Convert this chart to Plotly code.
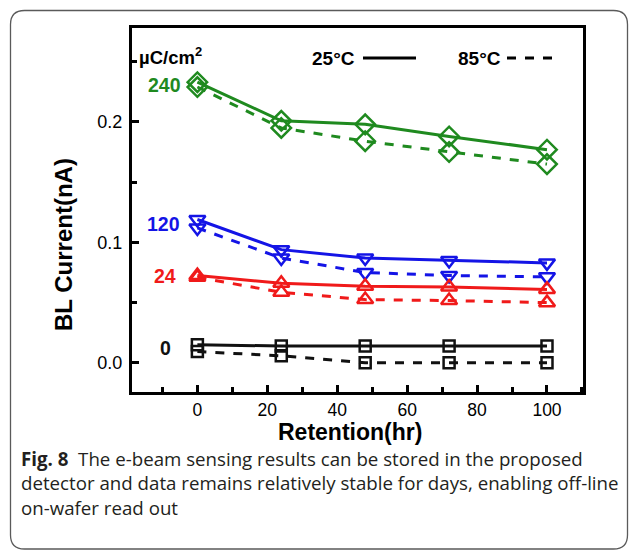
import plotly.graph_objects as go

# Retention times (hours)
retention_hr = [0, 24, 48, 72, 100]

# BL current (nA) for each e-beam dose, at 25°C (solid) and 85°C (dashed)
dose_labels = ["240", "120", "24", "0"]
current_25c = {
    "240": [0.233, 0.201, 0.198, 0.188, 0.177],
    "120": [0.119, 0.094, 0.087, 0.085, 0.083],
    "24": [0.0725, 0.066, 0.0636, 0.063, 0.061],
    "0": [0.015, 0.014, 0.014, 0.014, 0.014],
}
current_85c = {
    "240": [0.229, 0.195, 0.184, 0.175, 0.165],
    "120": [0.112, 0.087, 0.075, 0.0725, 0.0714],
    "24": [0.071, 0.0586, 0.0525, 0.0517, 0.050],
    "0": [0.0094, 0.0058, 0.0, 0.0, 0.0],
}
x_ticks = [0, 20, 40, 60, 80, 100]
y_ticks = [0.0, 0.1, 0.2]

colors = {"240": "#1f8a1f", "120": "#1414e6", "24": "#f01a1a", "0": "#111111"}
symbols = {"240": "diamond-open", "120": "triangle-down-open",
           "24": "triangle-up-open", "0": "square-open"}
sizes = {"240": 15, "120": 14, "24": 14, "0": 11}
# horizontal offset (hours) of each dose label left of the first point
label_dx = {"240": -4.0, "120": -4.3, "24": -5.5, "0": -6.9}

W, H = 629, 551
ML, MR, MT, MB = 132, 46, 28, 159
PW, PH = W - ML - MR, H - MT - MB


def fx(px):
    return (px - ML) / PW


def fy(py):
    return 1 - (py - MT) / PH


fig = go.Figure()
for d in dose_labels:
    for vals, dash in ((current_85c[d], "dash"), (current_25c[d], "solid")):
        fig.add_trace(go.Scatter(
            x=retention_hr, y=vals, mode="lines+markers",
            line=dict(color=colors[d], width=3, dash=dash),
            marker=dict(symbol=symbols[d], size=sizes[d], color=colors[d],
                        line=dict(width=2.5, color=colors[d])),
            showlegend=False, cliponaxis=False,
        ))

bold = dict(family="Liberation Sans, Arial, sans-serif", color="black")
annotations = []
# dose labels next to the first point of each series
for d in dose_labels:
    annotations.append(dict(
        x=label_dx[d], y=(current_25c[d][0] + current_85c[d][0]) / 2,
        xref="x", yref="y", text=f"<b>{d}</b>", showarrow=False,
        xanchor="right", yanchor="middle",
        font=dict(family=bold["family"], size=19.5, color=colors[d]),
    ))
annotations += [
    dict(x=fx(137), y=fy(56), xref="paper", yref="paper",
         text="<b>µC/cm<sup>2</sup></b>", showarrow=False,
         xanchor="left", yanchor="middle", font=dict(bold, size=18.5)),
    dict(x=fx(357), y=fy(58), xref="paper", yref="paper", text="<b>25°C</b>",
         showarrow=False, xanchor="right", yanchor="middle",
         font=dict(bold, size=19)),
    dict(x=fx(503), y=fy(58), xref="paper", yref="paper", text="<b>85°C</b>",
         showarrow=False, xanchor="right", yanchor="middle",
         font=dict(bold, size=19)),
    # axis titles
    dict(x=fx(350), y=fy(432), xref="paper", yref="paper",
         text="<b>Retention(hr)</b>", showarrow=False,
         xanchor="center", yanchor="middle", font=dict(bold, size=23)),
    dict(x=fx(63), y=fy(245), xref="paper", yref="paper",
         text="<b>BL Current(nA)</b>", showarrow=False, textangle=-90,
         xanchor="center", yanchor="middle", font=dict(bold, size=24)),
    # caption
    dict(x=fx(19), y=fy(444), xref="paper", yref="paper",
         text=("<b>Fig. 8</b>  The e-beam sensing results can be stored in the proposed<br>"
               "detector and data remains relatively stable for days, enabling off-line<br>"
               "on-wafer read out"),
         showarrow=False, xanchor="left", yanchor="top", align="left",
         font=dict(family="Open Sans, Noto Sans, sans-serif", size=18.7,
                   color="#231f20")),
]

shapes = [
    dict(type="line", xref="paper", yref="paper", x0=fx(363), x1=fx(416),
         y0=fy(58), y1=fy(58), line=dict(color="black", width=3)),
    dict(type="line", xref="paper", yref="paper", x0=fx(507), x1=fx(557),
         y0=fy(58), y1=fy(58), line=dict(color="black", width=3, dash="dash")),
]

# rounded outline framing the figure and caption
bx0, by0, bx1, by1, r = 10.5, 10.5, 627.5, 549, 14
path = (f"M {fx(bx0 + r)},{fy(by0)} L {fx(bx1 - r)},{fy(by0)} "
        f"Q {fx(bx1)},{fy(by0)} {fx(bx1)},{fy(by0 + r)} "
        f"L {fx(bx1)},{fy(by1 - r)} Q {fx(bx1)},{fy(by1)} {fx(bx1 - r)},{fy(by1)} "
        f"L {fx(bx0 + r)},{fy(by1)} Q {fx(bx0)},{fy(by1)} {fx(bx0)},{fy(by1 - r)} "
        f"L {fx(bx0)},{fy(by0 + r)} Q {fx(bx0)},{fy(by0)} {fx(bx0 + r)},{fy(by0)} Z")
shapes.append(dict(type="path", xref="paper", yref="paper", path=path,
                   line=dict(color="#5a5a5a", width=1.3), layer="below"))

fig.update_layout(
    width=W, height=H, margin=dict(l=ML, r=MR, t=MT, b=MB),
    paper_bgcolor="white", plot_bgcolor="white",
    annotations=annotations, shapes=shapes,
    xaxis=dict(
        range=[-18.7, 110.3], tickvals=x_ticks, ticks="inside", ticklen=7,
        tickwidth=2.5, tickcolor="black", showline=True, linewidth=3,
        linecolor="black", mirror=True, showgrid=False, zeroline=False,
        minor=dict(tickvals=[-10, 10, 30, 50, 70, 90, 110], ticks="inside",
                   ticklen=5, tickwidth=2.5, tickcolor="black"),
        tickfont=dict(bold, size=17.5), ticklabelstandoff=0,
    ),
    yaxis=dict(
        range=[-0.0242, 0.278], tickvals=y_ticks, tickformat=".1f",
        ticks="inside", ticklen=7, tickwidth=2.5, tickcolor="black",
        showline=True, linewidth=3, linecolor="black", mirror=True,
        showgrid=False, zeroline=False,
        minor=dict(tickvals=[0.05, 0.15, 0.25], ticks="inside", ticklen=5,
                   tickwidth=2.5, tickcolor="black"),
        tickfont=dict(bold, size=18), ticklabelstandoff=3,
    ),
)

fig.write_html("out.html")
